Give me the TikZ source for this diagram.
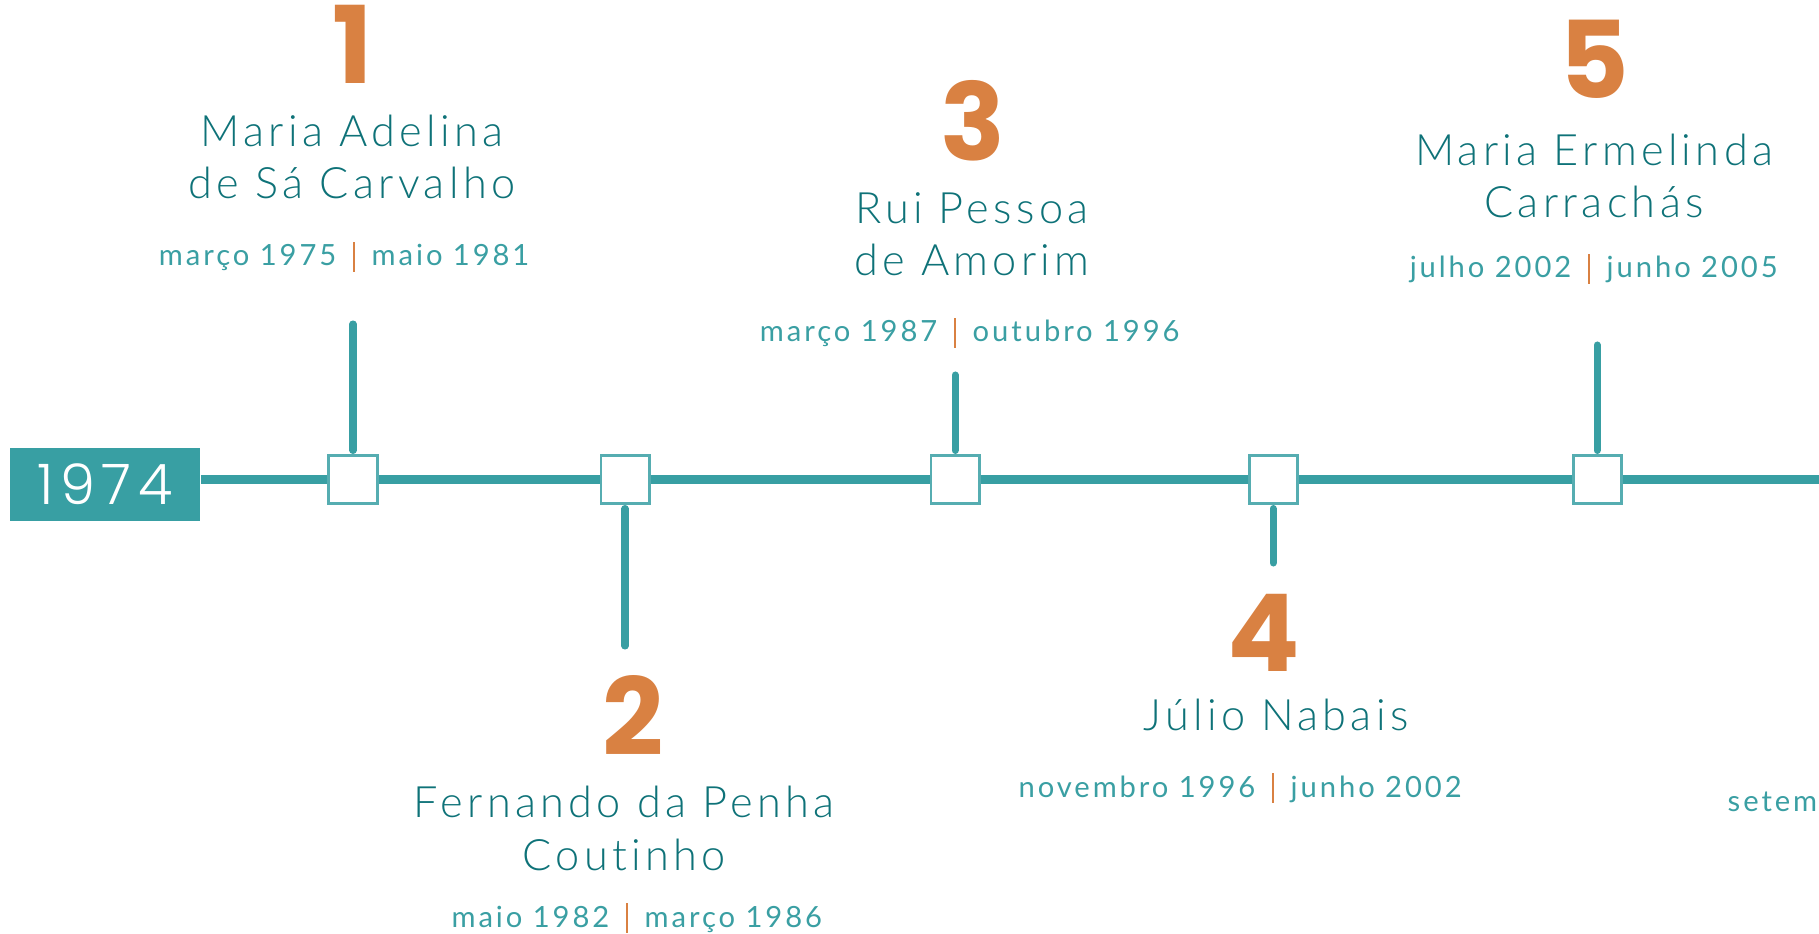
\documentclass[tikz,border=0pt]{standalone}
\usepackage{fontspec}
\setmainfont{Lato}
\newfontfamily\namefont[LetterSpace=10,Ligatures=NoCommon]{Lato Light}
\newfontfamily\datefont[LetterSpace=10,Ligatures=NoCommon]{Lato}
\newfontfamily\numfont{Poppins}
\newfontfamily\yearfont[LetterSpace=12]{Poppins Light}
\definecolor{lineteal}{HTML}{389FA3}
\definecolor{nameteal}{HTML}{0E7278}
\definecolor{dateteal}{HTML}{3A9FA3}
\definecolor{accent}{HTML}{D98142}

\begin{document}
\begin{tikzpicture}[x=0.01cm,y=-0.01cm,
    markbox/.style={draw=lineteal!85, line width=0.85pt, fill=white, minimum size=0.48cm, inner sep=0pt},
    stem/.style={lineteal, line width=2pt, line cap=round, shorten <=1pt},
    num/.style={text=accent, font=\numfont\bfseries\fontsize{30.5}{30}\selectfont, anchor=base, inner sep=0pt},
    person/.style={text=nameteal, font=\namefont\fontsize{12.3}{15}\selectfont, align=center, anchor=base, inner sep=0pt},
    period/.style={text=dateteal, font=\datefont\fontsize{8.3}{10}\selectfont, inner sep=0pt},
    sepbar/.style={fill=accent, minimum width=0.02cm, minimum height=0.30cm, inner sep=0pt}]
    \useasboundingbox (0,0) rectangle (1819,934);

    % timeline
    \node[fill=lineteal, minimum width=1.9cm, minimum height=0.73cm, inner sep=0pt, text=white, font=\yearfont\fontsize{15.9}{16}\selectfont] (start) at (105,484.5) {1974};
    \coordinate (tl-end) at (1819,479.5);
    \draw[lineteal, line width=2.7pt] (start.east |- tl-end) -- (tl-end);

    \node[markbox] (m1) at (353,479.5) {};
    \node[markbox] (m2) at (625,479.5) {};
    \node[markbox] (m3) at (955,479.5) {};
    \node[markbox] (m4) at (1273,479.5) {};
    \node[markbox] (m5) at (1597,479.5) {};

    \coordinate (s1) at (353,324);
    \coordinate (s2) at (625,646);
    \coordinate (s3) at (955,375);
    \coordinate (s4) at (1273,563);
    \coordinate (s5) at (1597,345);
    \draw[stem] (m1.north) -- (s1);
    \draw[stem] (m2.south) -- (s2);
    \draw[stem] (m3.north) -- (s3);
    \draw[stem] (m4.south) -- (s4);
    \draw[stem] (m5.north) -- (s5);

    % numbers and names (base = last line)
    \node[num] (n1) at (353,84) {1};
    \node[num] (n2) at (633,755) {2};
    \node[num] (n3) at (973,161) {3};
    \node[num] (n4) at (1264,671) {4};
    \node[num] (n5) at (1594,99) {5};

    \node[person] (p1) at (352,199) {Maria Adelina\\de Sá Carvalho};
    \node[person] (p2) at (624,870) {Fernando da Penha\\Coutinho};
    \node[person] (p3) at (972,276) {Rui Pessoa\\de Amorim};
    \node[person] (p4) at (1276,730) {Júlio Nabais};
    \node[person] (p5) at (1594,218) {Maria Ermelinda\\Carrachás};

    % dates
    \node[sepbar] (b1) at (354,257) {};
    \node[period, anchor=base east] (d1a) at (337,266) {março 1975};
    \node[period, anchor=base west] (d1b) at (371,266) {maio 1981};
    \node[sepbar] (b2) at (627,918) {};
    \node[period, anchor=base east] (d2a) at (610,927) {maio 1982};
    \node[period, anchor=base west] (d2b) at (644,927) {março 1986};
    \node[sepbar] (b3) at (955,333) {};
    \node[period, anchor=base east] (d3a) at (938,342) {março 1987};
    \node[period, anchor=base west] (d3b) at (972,342) {outubro 1996};
    \node[sepbar] (b4) at (1273,788) {};
    \node[period, anchor=base east] (d4a) at (1256,797) {novembro 1996};
    \node[period, anchor=base west] (d4b) at (1290,797) {junho 2002};
    \node[sepbar] (b5) at (1589,269) {};
    \node[period, anchor=base east] (d5a) at (1572,278) {julho 2002};
    \node[period, anchor=base west] (d5b) at (1606,278) {junho 2005};
    \node[period, anchor=base west] (d6a) at (1727,811) {setem};
\end{tikzpicture}
\end{document}
